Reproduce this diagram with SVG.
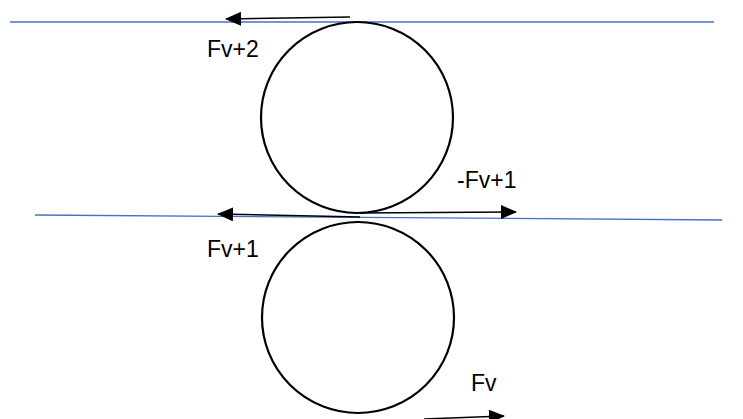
<svg xmlns="http://www.w3.org/2000/svg" width="743" height="419" viewBox="0 0 743 419">
<style>
.blue{stroke:#4472C4;stroke-width:1.3;fill:none}
.circ{stroke:#000;stroke-width:2.2;fill:none}
.arr{stroke:#000;stroke-width:1.5;fill:none;marker-end:url(#ah)}
text{font-family:"Liberation Sans","Open Sans",sans-serif;font-size:23px;fill:#000}
</style>
<defs>
<marker id="ah" markerWidth="16" markerHeight="14" refX="15" refY="7" orient="auto" markerUnits="userSpaceOnUse">
<path d="M0,0 L16,7 L0,14 Z" fill="#000"/>
</marker>
<linearGradient id="fade" x1="0" x2="1">
<stop offset="0" stop-color="#4472C4" stop-opacity="0.5"/>
<stop offset="1" stop-color="#4472C4" stop-opacity="0.15"/>
</linearGradient>
</defs>
<g id="lines">
<line class="blue" x1="10" y1="22" x2="714" y2="22"/>
<line class="blue" x1="35" y1="215" x2="722" y2="220"/>
<line x1="500" y1="418" x2="743" y2="418" stroke="url(#fade)" stroke-width="1.5"/>
</g>
<g id="roller-top"><ellipse class="circ" cx="357" cy="117.5" rx="96" ry="95.5"/></g>
<g id="roller-bottom"><ellipse class="circ" cx="358" cy="317.5" rx="96" ry="95.5"/></g>
<g id="connectors">
<line class="arr" x1="350" y1="17" x2="226" y2="19"/>
<line class="arr" x1="360" y1="217" x2="218" y2="214"/>
<line class="arr" x1="360" y1="213" x2="516" y2="212"/>
<line class="arr" x1="424" y1="419" x2="504" y2="416"/>
</g>
<g id="labels">
<text x="207" y="57">Fv+2</text>
<text x="457" y="188">-Fv+1</text>
<text x="207" y="257">Fv+1</text>
<text x="471" y="391">Fv</text>
</g>
</svg>
